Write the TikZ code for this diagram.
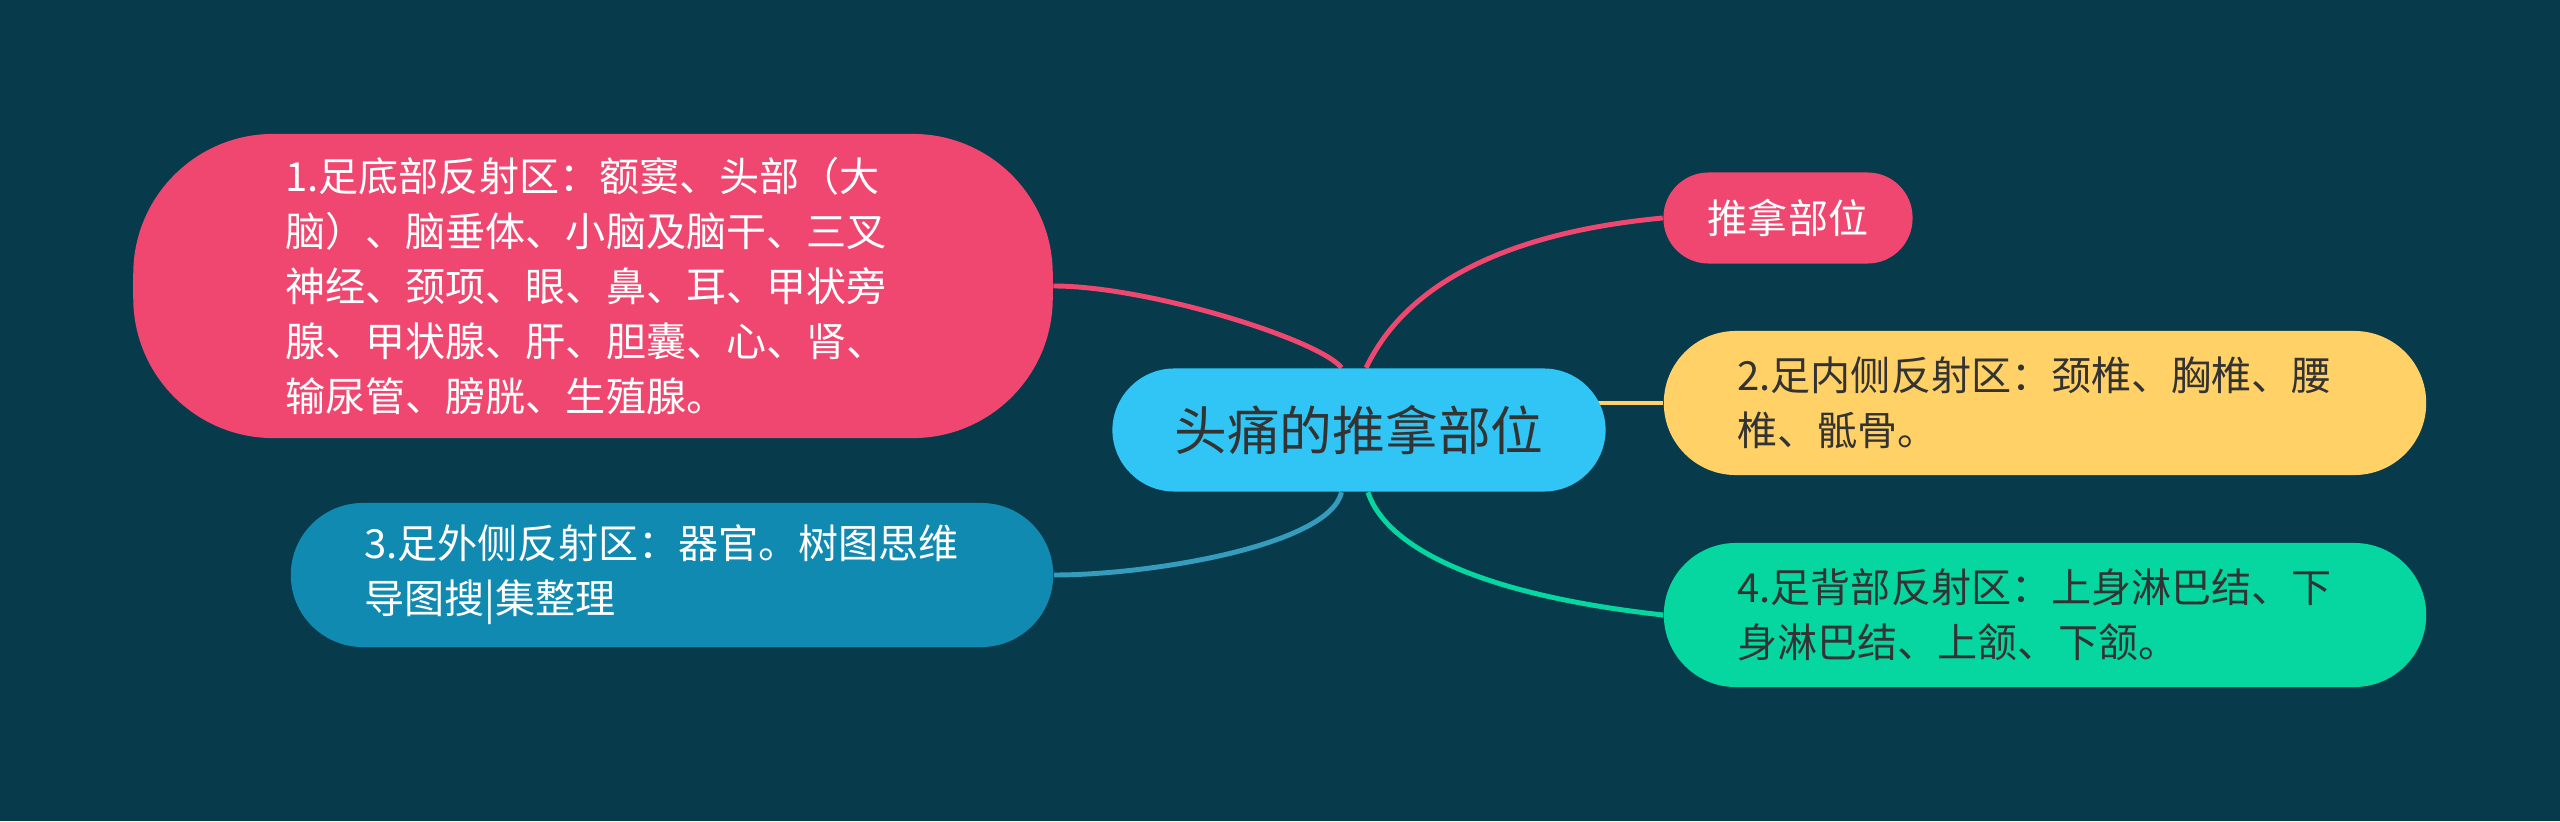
\documentclass[tikz,border=0pt]{standalone}
\usepackage{fontspec}
\setmainfont{Noto Sans CJK SC}
\usepackage{tikz}
\definecolor{bgteal}{HTML}{073B4C}
\definecolor{pinkc}{HTML}{EF476F}
\definecolor{yellowc}{HTML}{FFD166}
\definecolor{greenc}{HTML}{06D6A0}
\definecolor{bluec}{HTML}{118AB2}
\definecolor{cyanc}{HTML}{30C5F5}
\definecolor{darktext}{HTML}{333333}
\pgfdeclarelayer{edges}
\pgfsetlayers{edges,main}

\begin{document}
\begin{tikzpicture}[line cap=round, line join=round,
                    x=0.01cm, y=-0.01cm,
    root/.style={rounded corners=0.62cm, fill=cyanc, text=darktext,
                 minimum width=4.93cm, minimum height=1.23cm, inner sep=0pt,
                 font=\fontsize{15pt}{18pt}\selectfont},
    leaf/.style={rounded corners=0.72cm, minimum width=7.62cm,
                 minimum height=1.44cm, inner sep=0pt, text width=6.15cm,
                 align=left, font=\fontsize{11.4pt}{15.6pt}\selectfont},
    link/.style={line width=1.4pt}]
\useasboundingbox (0,0) rectangle (2560,821);
\node [root] (c) at (1359,430) {头痛的推拿部位};
\node [rounded corners=0.45cm, fill=pinkc, text=white, inner sep=0pt,
       minimum width=2.49cm, minimum height=0.91cm,
       font=\fontsize{11.4pt}{15.6pt}\selectfont] (n0) at (1788,218) {推拿部位};
\node [leaf, fill=pinkc, text=white, rounded corners=1.4cm,
       minimum width=9.19cm, minimum height=3.04cm] (n1) at (593,286)
      {1.足底部反射区：额窦、头部（大\\脑）、脑垂体、小脑及脑干、三叉\\神经、颈项、眼、鼻、耳、甲状旁\\腺、甲状腺、肝、胆囊、心、肾、\\输尿管、膀胱、生殖腺。};
\node [leaf, fill=yellowc, text=darktext] (n2) at (2045,403)
      {2.足内侧反射区：颈椎、胸椎、腰\\椎、骶骨。};
\node [leaf, fill=bluec, text=white] (n3) at (672,575)
      {3.足外侧反射区：器官。树图思维\\导图搜|集整理};
\node [leaf, fill=greenc, text=darktext] (n4) at (2045,615)
      {4.足背部反射区：上身淋巴结、下\\身淋巴结、上颔、下颔。};
\begin{pgfonlayer}{edges}
\fill [bgteal] (0,0) rectangle (2560,821);
\draw [link, color=pinkc] (n1.east) .. controls +(95,0) and +(-22,-28)
      .. ([xshift=-0.175cm]c.north);
\draw [link, color=pinkc] ([xshift=0.07cm]c.north) .. controls +(19,-38)
      and +(-224,21) .. (n0.west);
\draw [link, color=yellowc] (c.center |- n2.west) -- (n2.west);
\draw [link, color=bluec!85!white] ([xshift=-0.175cm]c.south) .. controls +(-12,53)
      and +(97,0) .. (n3.east);
\draw [link, color=greenc] ([xshift=0.09cm]c.south) .. controls +(12,38)
      and +(-224,-25) .. (n4.west);
\end{pgfonlayer}
\end{tikzpicture}
\end{document}
